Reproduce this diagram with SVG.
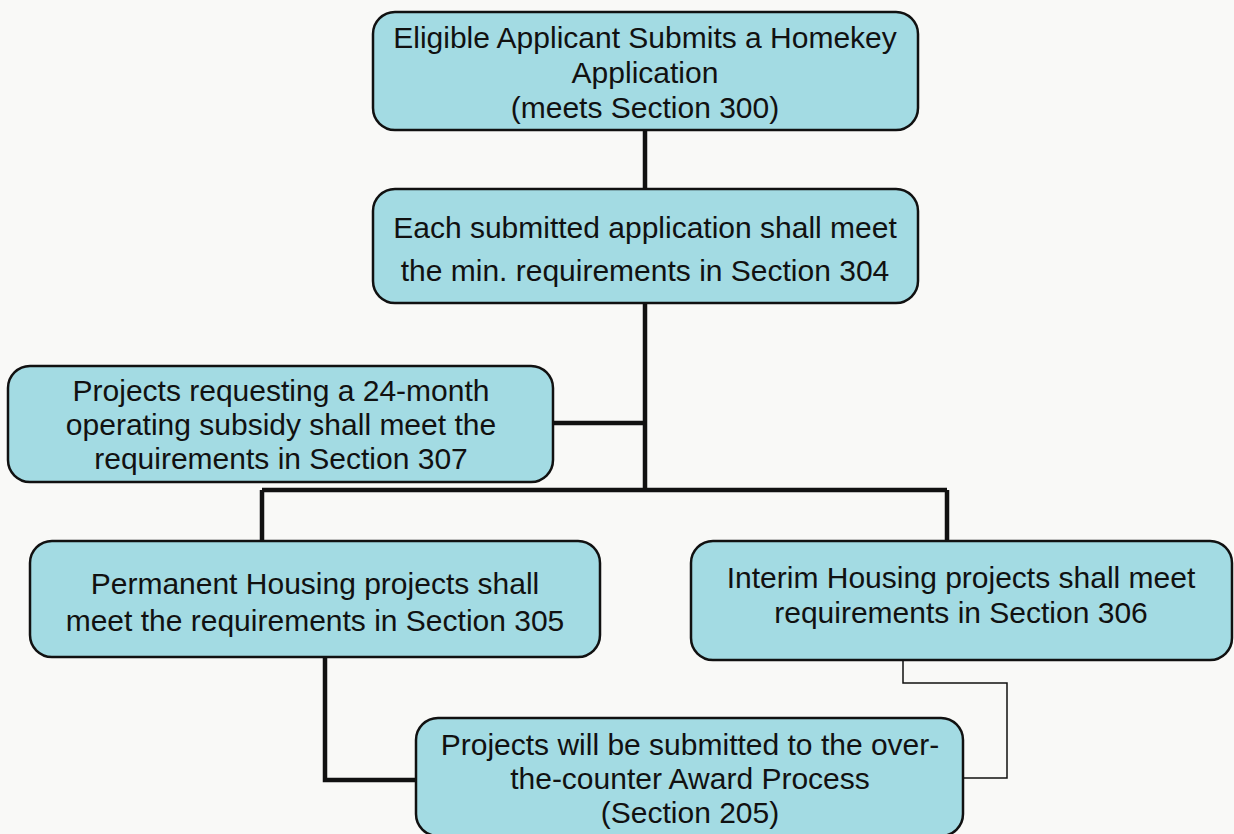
<svg xmlns="http://www.w3.org/2000/svg" width="1234" height="834" viewBox="0 0 1234 834">
<style>
.box{fill:#a3dbe3;stroke:#111;stroke-width:2.5}
.t{font-family:"Liberation Sans",Arial,sans-serif;font-size:30px;fill:#111;text-anchor:middle}
.thick{fill:none;stroke:#111;stroke-width:4.5}
.thin{fill:none;stroke:#111;stroke-width:1.5}
</style>
<rect width="1234" height="834" fill="#f9f9f7"/>
<g id="connectors">
<path class="thick" d="M645 130V189M645 303V490M553 423H645M262 490H947M262 490V541M947 490V541M325 657V780H416"/>
<path class="thin" d="M903 660V683H1007V778H963"/>
</g>
<g id="n1">
<rect class="box" x="373" y="12" width="545" height="118" rx="22"/>
<text class="t" x="645" y="48">Eligible Applicant Submits a Homekey</text>
<text class="t" x="645" y="83">Application</text>
<text class="t" x="645" y="118">(meets Section 300)</text>
</g>
<g id="n2">
<rect class="box" x="373" y="189" width="545" height="114" rx="22"/>
<text class="t" x="645" y="238">Each submitted application shall meet</text>
<text class="t" x="645" y="281">the min. requirements in Section 304</text>
</g>
<g id="n3">
<rect class="box" x="8" y="366" width="545" height="116" rx="22"/>
<text class="t" x="281" y="401">Projects requesting a 24-month</text>
<text class="t" x="281" y="435">operating subsidy shall meet the</text>
<text class="t" x="281" y="469">requirements in Section 307</text>
</g>
<g id="n4">
<rect class="box" x="30" y="541" width="570" height="116" rx="22"/>
<text class="t" x="315" y="594">Permanent Housing projects shall</text>
<text class="t" x="315" y="631">meet the requirements in Section 305</text>
</g>
<g id="n5">
<rect class="box" x="691" y="541" width="541" height="119" rx="22"/>
<text class="t" x="961" y="588">Interim Housing projects shall meet</text>
<text class="t" x="961" y="623">requirements in Section 306</text>
</g>
<g id="n6">
<rect class="box" x="416" y="718" width="547" height="118" rx="22"/>
<text class="t" x="690" y="755">Projects will be submitted to the over-</text>
<text class="t" x="690" y="789">the-counter Award Process</text>
<text class="t" x="690" y="823">(Section 205)</text>
</g>
</svg>
